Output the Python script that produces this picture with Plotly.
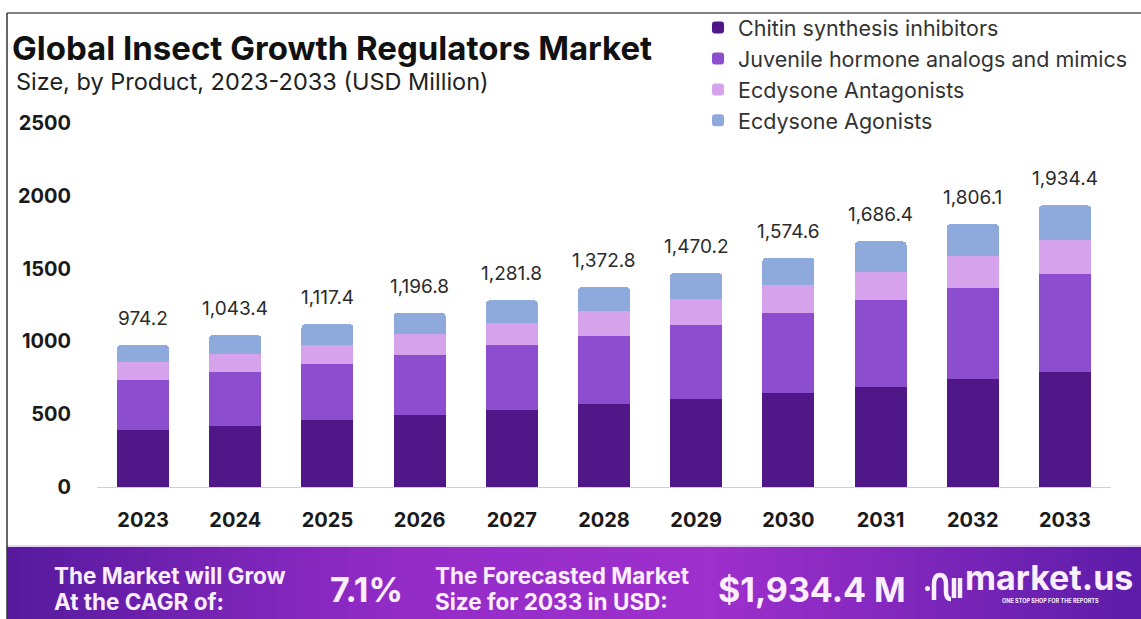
import plotly.graph_objects as go

# ---------------- data ----------------
years = ["2023", "2024", "2025", "2026", "2027", "2028", "2029", "2030", "2031", "2032", "2033"]
totals = [974.2, 1043.4, 1117.4, 1196.8, 1281.8, 1372.8, 1470.2, 1574.6, 1686.4, 1806.1, 1934.4]
chitin = [394, 421, 458, 492, 526, 567, 601, 647, 689, 742, 790]
juvenile = [339, 367, 387, 412, 447, 469, 509, 550, 593, 626, 676]
antagonists = [124, 126, 133, 145, 151, 172, 179, 190, 197, 217, 229]
agonists = [round(t - a - b - c, 1) for t, a, b, c in zip(totals, chitin, juvenile, antagonists)]
series_names = ["Chitin synthesis inhibitors", "Juvenile hormone analogs and mimics",
                "Ecdysone Antagonists", "Ecdysone Agonists"]
y_ticks = [0, 500, 1000, 1500, 2000, 2500]
cagr_text = "7.1%"
forecast_text = "$1,934.4 M"

colors = ["#4f1788", "#8c4dcf", "#d7a2ec", "#8eaadd"]

# ---------------- geometry helpers (pixel -> paper) ----------------
W, H = 1141, 619
ML, MR, MT, MB = 97, 30, 123, 132
PW = W - ML - MR
PH = H - MT - MB


def xp(px):
    return (px - ML) / PW


def yp(py):
    return (H - MB - py) / PH


FONT = "Inter, 'Open Sans', sans-serif"
WHITE = "#fbeefe"

fig = go.Figure()
for name, vals, col in zip(series_names, [chitin, juvenile, antagonists, agonists], colors):
    fig.add_trace(go.Bar(
        x=years, y=vals, name=name, marker=dict(color=col, line=dict(width=0)),
        legendgroup=name, hoverinfo="skip",
    ))

annotations = []
for i, t in enumerate(totals):
    annotations.append(dict(
        x=i, y=t, xref="x", yref="y", text=f"{t:,.1f}", showarrow=False,
        yanchor="bottom", yshift=13, font=dict(family=FONT, size=19, color="#2b2b2b"),
    ))

# title & subtitle
annotations.append(dict(
    x=xp(10), y=yp(48), xref="paper", yref="paper", xanchor="left", yanchor="middle",
    text="<b>Global Insect Growth Regulators Market</b>", showarrow=False,
    font=dict(family=FONT, size=33, color="#111111"),
))
annotations.append(dict(
    x=xp(14), y=yp(82), xref="paper", yref="paper", xanchor="left", yanchor="middle",
    text="Size, by Product, 2023-2033 (USD Million)", showarrow=False,
    font=dict(family=FONT, size=23.5, color="#222222"),
))

# footer texts
foot_font = dict(family=FONT, size=22.5, color=WHITE)
for txt, x, y in [("The Market will Grow", 52, 575), ("At the CAGR of:", 52, 601),
                  ("The Forecasted Market", 433, 575), ("Size for 2033 in USD:", 433, 601)]:
    annotations.append(dict(x=xp(x), y=yp(y), xref="paper", yref="paper", xanchor="left",
                            yanchor="middle", text=f"<b>{txt}</b>", showarrow=False, font=foot_font))
annotations += [
    dict(x=xp(366), y=yp(589), xref="paper", yref="paper", xanchor="center", yanchor="middle",
         text=f"<b>{cagr_text}</b>", showarrow=False,
         font=dict(family=FONT, size=34, color=WHITE)),
    dict(x=xp(812), y=yp(589), xref="paper", yref="paper", xanchor="center", yanchor="middle",
         text=f"<b>{forecast_text}</b>", showarrow=False,
         font=dict(family=FONT, size=34, color=WHITE)),
    dict(x=xp(963), y=yp(577), xref="paper", yref="paper", xanchor="left", yanchor="middle",
         text="<b>market.us</b>", showarrow=False,
         font=dict(family=FONT, size=34, color=WHITE)),
    dict(x=xp(1050), y=yp(601), xref="paper", yref="paper", xanchor="center", yanchor="middle",
         text="<b>ONE STOP SHOP FOR THE REPORTS</b>", showarrow=False,
         font=dict(family=FONT, size=5.5, color=WHITE)),
]

shapes = []
# gradient banner built from thin strips
stops = [(0.0, (86, 26, 158)), (0.35, (148, 44, 200)), (0.62, (158, 48, 205)), (1.0, (92, 28, 168))]


def grad(t):
    for (t0, c0), (t1, c1) in zip(stops[:-1], stops[1:]):
        if t0 <= t <= t1:
            f = (t - t0) / (t1 - t0)
            return "rgb(%d,%d,%d)" % tuple(round(a + (b - a) * f) for a, b in zip(c0, c1))
    return "rgb(%d,%d,%d)" % stops[-1][1]


N = 80
x0b, x1b = 7, W + 2
for i in range(N):
    a = x0b + (x1b - x0b) * i / N
    b = x0b + (x1b - x0b) * (i + 1) / N + 1
    shapes.append(dict(type="rect", xref="paper", yref="paper", x0=xp(a), x1=xp(b),
                       y0=yp(547), y1=yp(H + 2), fillcolor=grad((i + 0.5) / N),
                       line=dict(width=0), layer="below"))
# faint line above banner
shapes.append(dict(type="line", xref="paper", yref="paper", x0=xp(7), x1=xp(W), y0=yp(546), y1=yp(546),
                   line=dict(color="#e9d3f2", width=2)))
# frame lines
shapes.append(dict(type="line", xref="paper", yref="paper", x0=xp(7), x1=xp(W + 2), y0=yp(13), y1=yp(13),
                   line=dict(color="#5a5a5a", width=1.5)))
shapes.append(dict(type="line", xref="paper", yref="paper", x0=xp(7), x1=xp(7), y0=yp(13), y1=yp(H + 2),
                   line=dict(color="#333333", width=1.5)))


# logo icon (simple path)
def P(x, y):
    return f"{xp(x):.5f},{yp(y):.5f}"


icon_path = ("M " + P(934, 600) + " L " + P(934, 585) + " Q " + P(934, 575) + " " + P(940, 575)
             + " Q " + P(946, 575) + " " + P(946, 585) + " L " + P(946, 592) + " Q " + P(946, 599) + " "
             + P(951, 599))
shapes.append(dict(type="path", xref="paper", yref="paper", path=icon_path,
                   line=dict(color=WHITE, width=4.5)))
shapes.append(dict(type="circle", xref="paper", yref="paper", x0=xp(925), x1=xp(930), y0=yp(586), y1=yp(591),
                   fillcolor=WHITE, line=dict(width=0)))
for bx in (954, 960):
    shapes.append(dict(type="line", xref="paper", yref="paper", x0=xp(bx), x1=xp(bx), y0=yp(578), y1=yp(598),
                       line=dict(color=WHITE, width=4.5)))

fig.update_layout(
    width=W, height=H,
    margin=dict(l=ML, r=MR, t=MT, b=MB, pad=0, autoexpand=False),
    barmode="stack", bargap=0.436, barcornerradius=4,
    paper_bgcolor="white", plot_bgcolor="white",
    font=dict(family=FONT, color="#222222"),
    showlegend=True,
    legend=dict(x=xp(698), y=yp(7), xanchor="left", yanchor="top", traceorder="normal",
                font=dict(family=FONT, size=21.5, color="#333333"), bgcolor="rgba(0,0,0,0)",
                itemclick=False, itemdoubleclick=False, tracegroupgap=0, itemwidth=30),
    xaxis=dict(type="category", range=[-0.5, 10.5], showgrid=False, zeroline=False, showline=True,
               linecolor="#d0d0d0", linewidth=1, ticks="", ticklabelstandoff=15,
               tickfont=dict(family=FONT, size=20, color="#1a1a1a", weight="bold"), fixedrange=True),
    yaxis=dict(range=[0, 2500], tickvals=y_ticks, ticktext=[str(v) for v in y_ticks],
               showgrid=False, zeroline=False, showline=False, ticks="", ticklabelstandoff=25,
               tickfont=dict(family=FONT, size=20, color="#1a1a1a", weight="bold"), fixedrange=True),
    annotations=annotations,
    shapes=shapes,
)

fig.write_html("out.html")
